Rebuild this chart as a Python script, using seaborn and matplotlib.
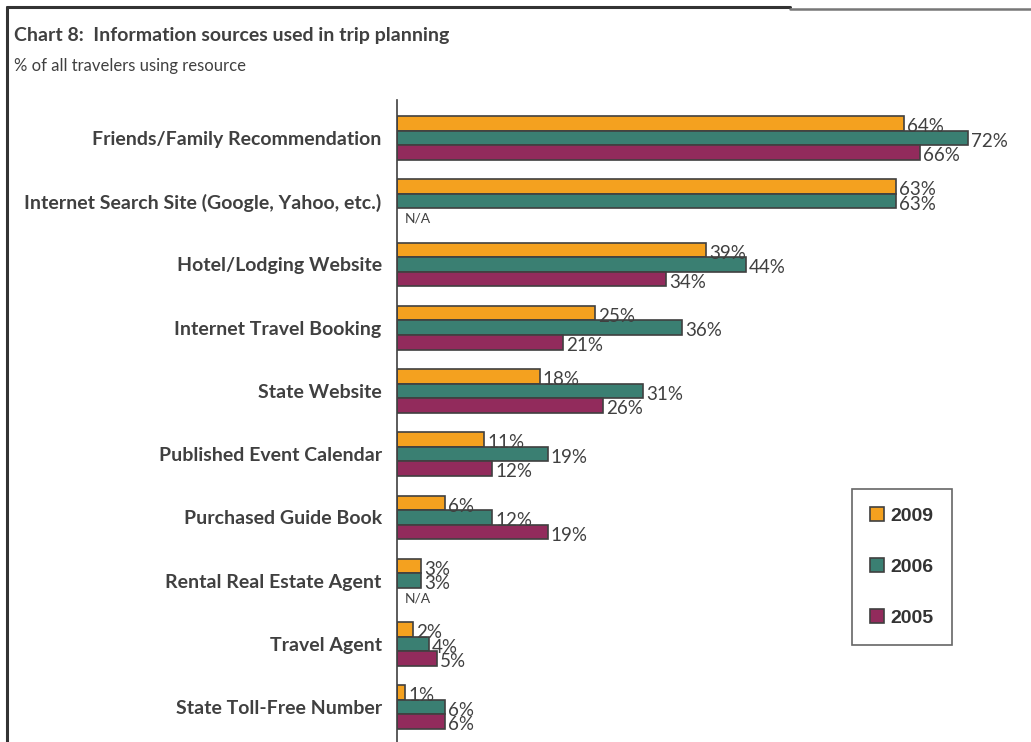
import numpy as np
import pandas as pd
import matplotlib
matplotlib.use("Agg")
import matplotlib.pyplot as plt
import seaborn as sns
from matplotlib.lines import Line2D

categories = ["Friends/Family Recommendation",
              "Internet Search Site (Google, Yahoo, etc.)",
              "Hotel/Lodging Website",
              "Internet Travel Booking",
              "State Website",
              "Published Event Calendar",
              "Purchased Guide Book",
              "Rental Real Estate Agent",
              "Travel Agent",
              "State Toll-Free Number"]
years = ["2009", "2006", "2005"]
vals_2009 = [64, 63, 39, 25, 18, 11, 6, 3, 2, 1]
vals_2006 = [72, 63, 44, 36, 31, 19, 12, 3, 4, 6]
vals_2005 = [66, np.nan, 34, 21, 26, 12, 19, np.nan, 5, 6]
colors = ["#F4A11F", "#3A7F72", "#922B5C"]

df = pd.DataFrame({
    "source": categories * 3,
    "year": ["2009"] * 10 + ["2006"] * 10 + ["2005"] * 10,
    "pct": vals_2009 + vals_2006 + vals_2005,
})

sns.set_style("white")
plt.rcParams["font.family"] = ["Lato", "DejaVu Sans"]
txt = "#404040"

fig = plt.figure(figsize=(10.31, 7.42), dpi=100)
ax = fig.add_axes([397 / 1031, 0, 634 / 1031, 642 / 742])

sns.barplot(data=df.dropna(), y="source", x="pct", hue="year", order=categories,
            hue_order=years, palette=colors, orient="h", width=0.69,
            edgecolor="#404040", linewidth=1.2, saturation=1, ax=ax)

ax.set_xlim(0, 80)
ax.set_ylim(9.55, -0.6)
ax.set_xlabel("")
ax.set_ylabel("")
ax.set_xticks([])
ax.tick_params(axis="y", length=0, pad=11)
for lab in ax.get_yticklabels():
    lab.set_fontweight("bold")
    lab.set_fontsize(14)
    lab.set_color(txt)
for s in ["top", "right", "bottom"]:
    ax.spines[s].set_visible(False)
ax.spines["left"].set_color("#404040")
ax.spines["left"].set_linewidth(1.2)

# value labels (they overlap a bit, as in the original)
for cont in ax.containers:
    for bar in cont:
        w = bar.get_width()
        if np.isnan(w) or w == 0:
            continue
        yc = bar.get_y() + bar.get_height() / 2
        ax.text(w + 0.4, yc + 0.05, f"{w:.0f}%", va="center", ha="left",
                fontsize=13.5, color=txt)

# N/A markers where 2005 is missing
for i, v in enumerate(vals_2005):
    if np.isnan(v):
        ax.text(1.0, i + 0.69 / 3 + 0.05, "N/A", va="center", ha="left",
                fontsize=10, color=txt)

# legend
handles, labels = ax.get_legend_handles_labels()
leg = fig.legend(handles, labels, loc="upper left",
                 bbox_to_anchor=(852 / 1031, 1 - 489 / 742),
                 frameon=True, fancybox=False, edgecolor="#404040",
                 prop={"family": "Liberation Sans", "weight": "bold", "size": 14},
                 labelspacing=1.7, handlelength=0.72, handleheight=0.72,
                 handletextpad=0.3, borderpad=0.95, borderaxespad=0)
leg.get_frame().set_linewidth(1.2)
for t in leg.get_texts():
    t.set_fontfamily("Liberation Sans")
    t.set_color("#333333")
ax.get_legend().remove()

# titles
fig.text(14 / 1031, 1 - 35 / 742, "Chart 8:  Information sources used in trip planning",
         fontsize=14, fontweight="bold", color=txt, va="center", ha="left")
fig.text(14 / 1031, 1 - 66 / 742, "% of all travelers using resource",
         fontsize=12, color=txt, va="center", ha="left")

# outer frame
fig.add_artist(Line2D([7 / 1031, 7 / 1031], [0, 1 - 7 / 742], color="#333333", lw=2.2))
fig.add_artist(Line2D([7 / 1031, 790 / 1031], [1 - 7 / 742, 1 - 7 / 742], color="#333333", lw=2.2))
fig.add_artist(Line2D([790 / 1031, 1], [1 - 8.5 / 742, 1 - 8.5 / 742], color="#777777", lw=1.8))

fig.savefig("out.png", dpi=100)
